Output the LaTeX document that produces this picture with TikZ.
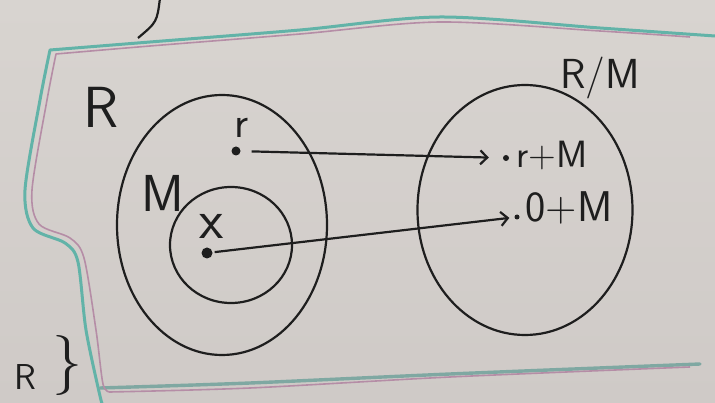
\documentclass[tikz,border=0pt]{standalone}
\usetikzlibrary{arrows.meta,positioning,shapes.geometric}
\definecolor{board}{HTML}{D8D4D0}
\definecolor{boardlow}{HTML}{CFCAC7}
\definecolor{ink}{HTML}{1E1E1E}
\definecolor{marker}{HTML}{62B3A8}
\definecolor{markergray}{HTML}{7FA8A2}
\definecolor{markerpink}{HTML}{B58DA6}
\newcommand{\hand}[1]{\fontsize{#1}{#1}\selectfont\sffamily}

\begin{document}
\begin{tikzpicture}[x=1pt, y=-1pt,
    inkline/.style={draw=ink, line width=2.2pt},
    setbox/.style={ellipse, draw=ink, line width=2.2pt, inner sep=0pt},
    dot/.style={circle, fill=ink, inner sep=0pt},
    every node/.style={text=ink}]
\useasboundingbox (0,0) rectangle (715,403);
\clip (0,0) rectangle (715,403);
\shade[top color=board, bottom color=boardlow] (0,0) rectangle (715,403);
% marker frame
\draw[marker, line width=3pt, line join=round, line cap=round]
  plot[smooth] coordinates {(715,36) (600,28) (440,17) (300,30) (150,42) (50,50)}
  -- plot[smooth] coordinates {(50,50) (40,100) (25,190) (33,228) (65,243) (78,262) (86,330) (100,396) (103,405)};
\draw[markergray, line width=3.4pt, line cap=round]
  plot[smooth] coordinates {(100,388) (250,383) (450,374) (700,364)};
\draw[markerpink, line width=1.6pt, line join=round]
  plot[smooth] coordinates {(690,37) (600,31) (440,22) (300,34) (150,46) (56,54)}
  -- plot[smooth] coordinates {(56,54) (47,100) (32,190) (39,224) (70,238) (84,258) (96,330) (103,384) (110,392)}
  -- plot[smooth] coordinates {(110,392) (250,388) (450,377) (690,367)};
% leftovers at the edges
\draw[inkline] (160,-2) .. controls (157,22) .. (138,38);
\node[font=\hand{36}, inner sep=0pt, anchor=south] (oldR) at (25,390) {R};
\node[font=\hand{60}] (oldbrace) at (67,366) {\}};
% the sets
\node[setbox, minimum width=210pt, minimum height=260pt] (setR) at (222,225) {};
\node[setbox, minimum width=122pt, minimum height=116pt] (setM) at (231,245) {};
\node[setbox, minimum width=215pt, minimum height=250pt] (quot) at (525,210) {};
% labels
\node[font=\hand{58}] (labR) at (101,107) {R};
\node[font=\hand{52}] (labM) at (163,193) {M};
\node[font=\hand{42}] (labQ) at (600,78) {R/M};
% elements
\node[font=\hand{44}] (labr) at (242,128) {r};
\node[dot, minimum size=9pt] (rdot) at (236,151) {};
\node[font=\hand{56}] (labx) at (212,226) {x};
\node[dot, minimum size=11pt] (xdot) at (207,253) {};
\node[dot, minimum size=6pt] (rmdot) at (506,158) {};
\node[font=\hand{38}, anchor=west] (rmtext) at (513,156) {r+M};
\node[dot, minimum size=5pt] (odot) at (517,217) {};
\node[font=\hand{43}, anchor=west] (otext) at (522,208) {0+M};
% arrows
\draw[inkline, -{Straight Barb[length=7pt,width=14pt]}, shorten <=11pt, shorten >=14pt] (rdot) -- (rmdot);
\draw[inkline, -{Straight Barb[length=7pt,width=14pt]}, shorten <=2pt, shorten >=5pt] (xdot) -- (odot);
\end{tikzpicture}
\end{document}
